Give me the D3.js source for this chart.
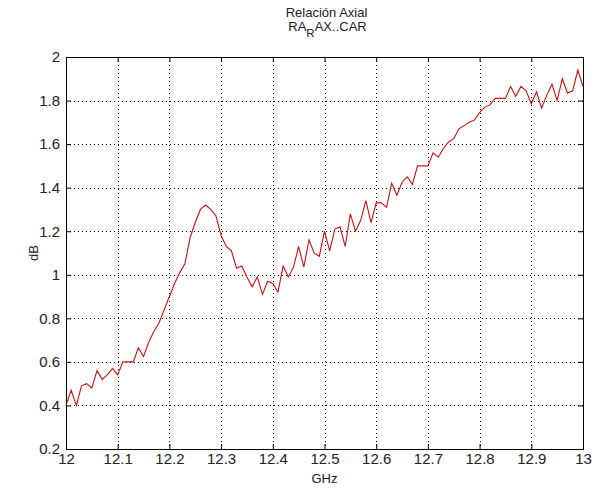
<!DOCTYPE html>
<html><head><meta charset="utf-8">
<script src="https://cdn.jsdelivr.net/npm/d3@7"></script>
<style>
html,body{margin:0;padding:0;background:#fff;}
text{font-family:"Liberation Sans",Arial,Helvetica,sans-serif;fill:#222;}
</style></head>
<body><svg id="c" width="601" height="490"></svg>
<script>
const titleLine1 = "Relación Axial";
const titleMain = "RA", titleSub = "R", titleRest = "AX..CAR";
const xLabel = "GHz", yLabel = "dB";
const xTicks = [12, 12.1, 12.2, 12.3, 12.4, 12.5, 12.6, 12.7, 12.8, 12.9, 13];
const yTicks = [0.2, 0.4, 0.6, 0.8, 1, 1.2, 1.4, 1.6, 1.8, 2];
const freq = [12.00,12.01,12.02,12.03,12.04,12.05,12.06,12.07,12.08,12.09,
  12.10,12.11,12.12,12.13,12.14,12.15,12.16,12.17,12.18,12.19,
  12.20,12.21,12.22,12.23,12.24,12.25,12.26,12.27,12.28,12.29,
  12.30,12.31,12.32,12.33,12.34,12.35,12.36,12.37,12.38,12.39,
  12.40,12.41,12.42,12.43,12.44,12.45,12.46,12.47,12.48,12.49,
  12.50,12.51,12.52,12.53,12.54,12.55,12.56,12.57,12.58,12.59,
  12.60,12.61,12.62,12.63,12.64,12.65,12.66,12.67,12.68,12.69,
  12.70,12.71,12.72,12.73,12.74,12.75,12.76,12.77,12.78,12.79,
  12.80,12.81,12.82,12.83,12.84,12.85,12.86,12.87,12.88,12.89,
  12.90,12.91,12.92,12.93,12.94,12.95,12.96,12.97,12.98,12.99,13.00];
const axialRatio = [0.40,0.47,0.40,0.49,0.50,0.48,0.56,0.52,0.54,0.57,
  0.54,0.60,0.60,0.60,0.665,0.625,0.69,0.74,0.78,0.84,
  0.90,0.96,1.01,1.05,1.17,1.24,1.30,1.32,1.30,1.27,
  1.18,1.13,1.11,1.03,1.04,0.99,0.945,0.99,0.91,0.97,
  0.96,0.92,1.04,0.99,1.035,1.13,1.035,1.16,1.10,1.085,
  1.20,1.11,1.21,1.22,1.13,1.28,1.20,1.25,1.34,1.24,
  1.33,1.33,1.31,1.42,1.365,1.425,1.45,1.415,1.50,1.50,
  1.50,1.56,1.54,1.58,1.61,1.625,1.67,1.685,1.70,1.71,
  1.745,1.77,1.78,1.81,1.81,1.81,1.865,1.82,1.865,1.845,
  1.785,1.84,1.765,1.825,1.875,1.80,1.90,1.835,1.845,1.94,1.865];

const L = 66, R = 583, T = 57, B = 449;
const svg = d3.select("#c");
const x = d3.scaleLinear().domain([12, 13]).range([L, R]);
const y = d3.scaleLinear().domain([0.2, 2]).range([B, T]);

// grid
const grid = svg.append("g").attr("stroke", "#000").attr("stroke-width", 1)
  .attr("stroke-dasharray", "1,3").attr("shape-rendering", "crispEdges");
xTicks.slice(1, -1).forEach(t => grid.append("line")
  .attr("x1", Math.round(x(t)) + 0.5).attr("x2", Math.round(x(t)) + 0.5)
  .attr("y1", T).attr("y2", B));
yTicks.slice(1, -1).forEach(t => grid.append("line")
  .attr("y1", Math.round(y(t)) + 0.5).attr("y2", Math.round(y(t)) + 0.5)
  .attr("x1", L).attr("x2", R));

// axes with inward ticks
const fmt = d => String(+d.toFixed(1));
const ax = svg.append("g").attr("transform", `translate(0,${B})`)
  .call(d3.axisBottom(x).tickValues(xTicks).tickSizeInner(-5).tickSizeOuter(0).tickPadding(4).tickFormat(fmt));
const axTop = svg.append("g").attr("transform", `translate(0,${T})`)
  .call(d3.axisTop(x).tickValues(xTicks).tickSizeInner(-5).tickSizeOuter(0).tickFormat(""));
const ay = svg.append("g").attr("transform", `translate(${L},0)`)
  .call(d3.axisLeft(y).tickValues(yTicks).tickSizeInner(-5).tickSizeOuter(0).tickPadding(6).tickFormat(fmt));
const ayR = svg.append("g").attr("transform", `translate(${R},0)`)
  .call(d3.axisRight(y).tickValues(yTicks).tickSizeInner(-5).tickSizeOuter(0).tickFormat(""));
[ax, axTop, ay, ayR].forEach(g => {
  g.select(".domain").remove();
  g.selectAll("line").attr("stroke", "#000");
  g.selectAll("text").attr("font-size", 15).attr("font-family", '"Liberation Sans",Arial,sans-serif').attr("fill", "#222");
});
svg.append("rect").attr("x", L + 0.5).attr("y", T + 0.5).attr("width", R - L).attr("height", B - T)
  .attr("fill", "none").attr("stroke", "#000").attr("stroke-width", 1).attr("shape-rendering", "crispEdges");

// line
const line = d3.line().x((d, i) => x(freq[i])).y(d => y(d));
svg.append("path").datum(axialRatio).attr("d", line)
  .attr("fill", "none").attr("stroke", "#d01010").attr("stroke-width", 1.1);

// titles
const cx = (L + R) / 2;
svg.append("text").attr("x", cx + 2).attr("y", 17).attr("text-anchor", "middle")
  .attr("font-size", 13).text(titleLine1);
const t2 = svg.append("text").attr("x", cx + 3).attr("y", 31).attr("text-anchor", "middle").attr("font-size", 13);
t2.append("tspan").text(titleMain);
t2.append("tspan").attr("dy", 6).attr("font-size", 11.5).text(titleSub);
t2.append("tspan").attr("dy", -6).text(titleRest);

svg.append("text").attr("x", cx).attr("y", 483).attr("text-anchor", "middle").attr("font-size", 13).text(xLabel);
svg.append("text").attr("transform", `translate(38,${(T + B) / 2}) rotate(-90)`)
  .attr("text-anchor", "middle").attr("font-size", 13).text(yLabel);
</script></body></html>
